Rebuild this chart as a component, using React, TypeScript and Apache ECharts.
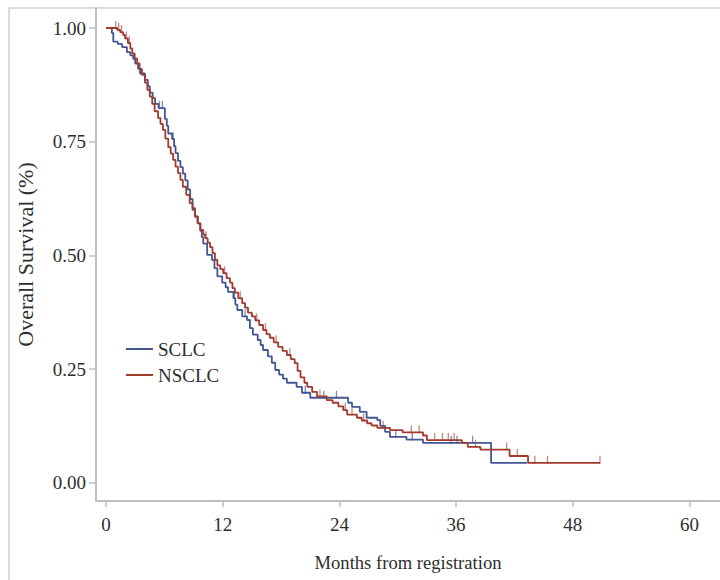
import { useEffect, useRef } from "react";
import * as echarts from "echarts";

const xTicks = [0, 12, 24, 36, 48, 60];
const yTicks = [0, 0.25, 0.5, 0.75, 1];
const seriesNames = ["SCLC", "NSCLC"];

// Kaplan-Meier steps: [months, survival after the event]
const sclcSteps = [
  [0, 1.0], [0.6, 0.989], [0.75, 0.97], [1.2, 0.965], [1.65, 0.958], [2.15, 0.947],
  [2.5, 0.94], [2.8, 0.932], [3.0, 0.922], [3.3, 0.91], [3.5, 0.9], [4.0, 0.886],
  [4.3, 0.872], [4.5, 0.858], [4.8, 0.846], [5.05, 0.833], [5.4, 0.824], [6.05, 0.8],
  [6.25, 0.785], [6.4, 0.768], [6.8, 0.756], [7.0, 0.74], [7.15, 0.725], [7.4, 0.708],
  [7.65, 0.694], [7.9, 0.68], [8.15, 0.665], [8.4, 0.645], [8.65, 0.624], [8.9, 0.604],
  [9.15, 0.586], [9.45, 0.57], [9.7, 0.554], [9.85, 0.54], [10.0, 0.526], [10.4, 0.501],
  [10.9, 0.49], [11.15, 0.472], [11.45, 0.454], [11.95, 0.44], [12.3, 0.43], [12.55, 0.42],
  [13.1, 0.406], [13.3, 0.392], [13.5, 0.38], [14.0, 0.366], [14.5, 0.358], [14.8, 0.34],
  [15.1, 0.326], [15.6, 0.314], [15.9, 0.303], [16.15, 0.292], [16.65, 0.278], [17.05, 0.264],
  [17.4, 0.248], [17.8, 0.238], [18.2, 0.229], [18.6, 0.22], [19.6, 0.211], [20.15, 0.198],
  [21.0, 0.187], [24.9, 0.176], [25.3, 0.167], [26.1, 0.156], [26.8, 0.143], [27.9, 0.138],
  [28.2, 0.125], [28.7, 0.112], [29.2, 0.101], [30.9, 0.095], [32.6, 0.088], [39.6, 0.044],
  [43.3, 0.044],
];

const nsclcSteps = [
  [0, 1.0], [1.15, 0.996], [1.45, 0.991], [1.75, 0.985], [1.95, 0.977], [2.25, 0.967],
  [2.5, 0.955], [2.7, 0.944], [2.95, 0.933], [3.2, 0.922], [3.45, 0.91], [3.7, 0.897],
  [4.0, 0.88], [4.25, 0.864], [4.5, 0.849], [4.75, 0.833], [5.0, 0.817], [5.35, 0.802],
  [5.6, 0.789], [5.85, 0.776], [6.1, 0.757], [6.4, 0.738], [6.65, 0.724], [6.9, 0.71],
  [7.15, 0.695], [7.4, 0.681], [7.65, 0.666], [7.9, 0.651], [8.25, 0.633], [8.6, 0.615],
  [8.9, 0.6], [9.15, 0.585], [9.4, 0.571], [9.7, 0.556], [10.0, 0.546], [10.2, 0.538],
  [10.45, 0.528], [10.7, 0.518], [10.95, 0.505], [11.2, 0.49], [11.45, 0.478], [11.75, 0.47],
  [12.05, 0.461], [12.4, 0.45], [12.75, 0.44], [13.0, 0.428], [13.25, 0.418], [13.6, 0.406],
  [14.0, 0.395], [14.3, 0.385], [14.6, 0.374], [15.0, 0.366], [15.35, 0.357], [15.75, 0.347],
  [16.15, 0.336], [16.5, 0.327], [16.85, 0.319], [17.25, 0.309], [17.7, 0.299], [18.15, 0.29],
  [18.6, 0.281], [19.0, 0.272], [19.4, 0.263], [19.7, 0.246], [20.0, 0.232], [20.4, 0.22],
  [20.7, 0.211], [21.2, 0.2], [21.7, 0.19], [22.7, 0.182], [23.3, 0.176], [23.9, 0.168],
  [24.4, 0.16], [24.8, 0.15], [25.8, 0.143], [26.3, 0.137], [26.85, 0.131], [27.3, 0.126],
  [27.9, 0.121], [29.2, 0.116], [30.5, 0.111], [32.6, 0.104], [33.0, 0.094], [36.6, 0.088],
  [37.2, 0.079], [38.5, 0.073], [41.5, 0.059], [43.4, 0.044], [50.8, 0.044],
];

// Censored observations: [months, survival]
const sclcCensored = [
  [5.5, 0.824], [5.8, 0.824], [6.9, 0.756], [13.2, 0.406], [14.3, 0.366], [20.5, 0.198],
  [22.4, 0.187], [23.7, 0.187], [29.8, 0.101], [31.5, 0.095], [35.5, 0.088], [36.1, 0.088],
  [37.7, 0.088],
];

const nsclcCensored = [
  [1.0, 1.0], [1.3, 0.996], [1.6, 0.991], [2.1, 0.977], [2.4, 0.967], [10.3, 0.538],
  [12.2, 0.461], [13.8, 0.406], [15.5, 0.357], [16.4, 0.336], [17.5, 0.309], [18.9, 0.281],
  [22.0, 0.19], [24.6, 0.16], [25.3, 0.15], [26.5, 0.137], [28.5, 0.121], [31.4, 0.111],
  [32.2, 0.111], [33.8, 0.094], [34.6, 0.094], [35.2, 0.094], [35.8, 0.094], [38.0, 0.079],
  [41.2, 0.073], [42.3, 0.059], [44.1, 0.044], [45.4, 0.044], [50.8, 0.044],
];

const BLUE = "#445694";
const RED = "#A23A2E";
const AXIS = "#bcc0c4";
const TEXT = "#2e2e2e";

export default function App() {
  const ref = useRef<HTMLDivElement>(null);
  useEffect(() => {
    document.body.style.margin = "0";
    const chart = echarts.init(ref.current!, null, { renderer: "svg" });
    const font = "'Liberation Serif', 'Times New Roman', serif";
    chart.setOption({
      animation: false,
      backgroundColor: "#ffffff",
      graphic: [
        {
          type: "rect",
          silent: true,
          z: -10,
          shape: { x: 9, y: 8, width: 760, height: 620 },
          style: { fill: "none", stroke: "#cfd1d3", lineWidth: 1.5 },
        },
      ],
      grid: { left: 96, top: 8, right: 0, bottom: 79, containLabel: false },
      legend: {
        orient: "vertical",
        left: 121,
        top: 334,
        itemWidth: 27,
        itemHeight: 2,
        itemGap: 6,
        icon: "rect",
        data: seriesNames,
        textStyle: { fontFamily: font, fontSize: 19, color: TEXT, lineHeight: 20 },
      },
      xAxis: {
        type: "value",
        min: -1.03,
        max: 63.14,
        name: "Months from registration",
        nameLocation: "middle",
        nameGap: 52,
        nameTextStyle: { fontFamily: font, fontSize: 18.6, color: TEXT },
        axisLine: { show: true, onZero: false, lineStyle: { color: AXIS, width: 2 } },
        axisTick: { show: true, length: 6, customValues: xTicks, lineStyle: { color: AXIS, width: 1.5 } },
        axisLabel: { customValues: xTicks, fontFamily: font, fontSize: 19, color: TEXT, margin: 14 },
        splitLine: { show: false },
      },
      yAxis: {
        type: "value",
        min: -0.04,
        max: 1.044,
        name: "Overall Survival (%)",
        nameLocation: "middle",
        nameGap: 60,
        nameRotate: 90,
        nameTextStyle: { fontFamily: font, fontSize: 22, color: TEXT },
        axisLine: { show: true, onZero: false, lineStyle: { color: AXIS, width: 2 } },
        axisTick: { show: true, length: 7, customValues: yTicks, lineStyle: { color: AXIS, width: 1.5 } },
        axisLabel: {
          customValues: yTicks,
          fontFamily: font,
          fontSize: 19,
          color: TEXT,
          margin: 10,
          formatter: (v: number) => v.toFixed(2),
        },
        splitLine: { show: false },
      },
      series: [
        {
          name: seriesNames[0],
          type: "line",
          step: "end",
          data: sclcSteps,
          symbol: "none",
          lineStyle: { color: BLUE, width: 1.8 },
          itemStyle: { color: BLUE },
          z: 2,
        },
        {
          name: seriesNames[1],
          type: "line",
          step: "end",
          data: nsclcSteps,
          symbol: "none",
          lineStyle: { color: RED, width: 1.8 },
          itemStyle: { color: RED },
          z: 3,
        },
        {
          name: "SCLC censored",
          type: "scatter",
          data: sclcCensored,
          symbol: "rect",
          symbolSize: [1.3, 8],
          symbolOffset: [0, -3],
          itemStyle: { color: BLUE, opacity: 0.7 },
          silent: true,
          z: 2,
        },
        {
          name: "NSCLC censored",
          type: "scatter",
          data: nsclcCensored,
          symbol: "rect",
          symbolSize: [1.3, 8],
          symbolOffset: [0, -3],
          itemStyle: { color: RED, opacity: 0.6 },
          silent: true,
          z: 3,
        },
      ],
    });
    return () => chart.dispose();
  }, []);
  return <div ref={ref} style={{ width: 720, height: 580 }} />;
}
